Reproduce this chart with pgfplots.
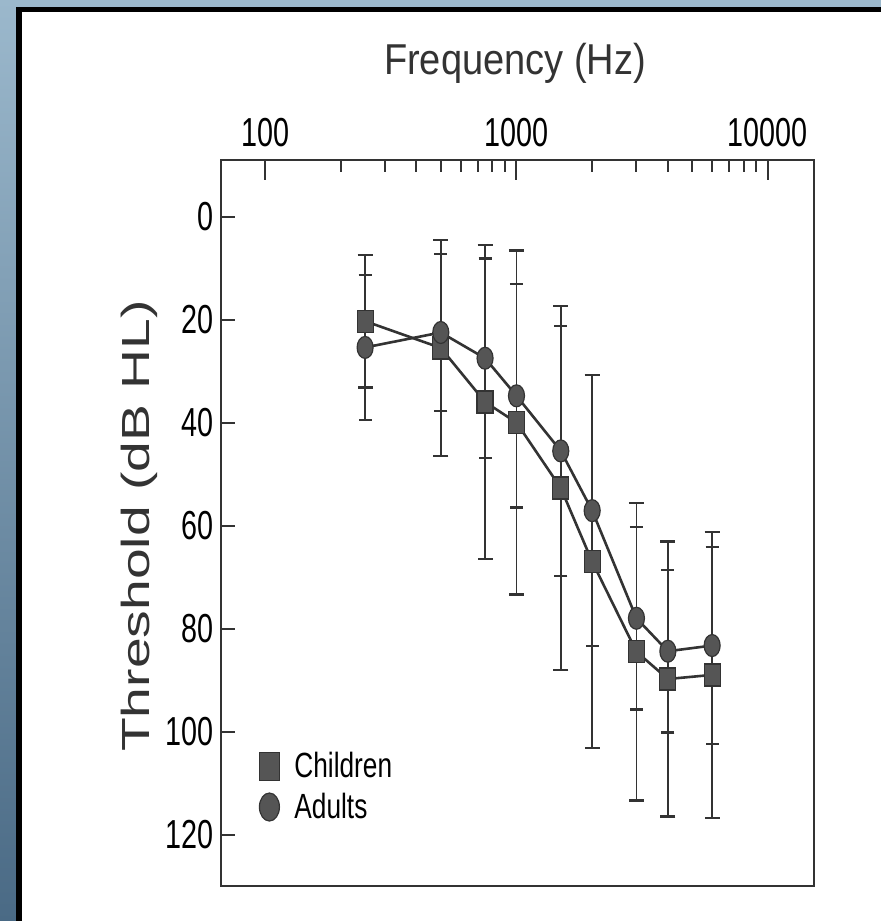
\documentclass[border=0pt]{standalone}
\usepackage{pgfplots}
\pgfplotsset{compat=1.18}
\usepackage{fontspec}
\setmainfont{Liberation Sans}
\usepackage{graphicx}

\definecolor{ink}{HTML}{333333}
\definecolor{markfill}{HTML}{555555}
\definecolor{bgtop}{HTML}{9BB8CC}
\definecolor{bgbot}{HTML}{4A6A85}
\newcommand{\tklab}[1]{\scalebox{0.71}[1]{#1}}

\pgfplotstableread{
x y e
250 20.3 12.9
500 25.5 21.0
750 36.0 30.5
1000 40.0 33.4
1500 52.7 35.3
2000 67.0 36.2
3000 84.5 28.9
4000 89.8 26.7
6000 89.0 27.8
}\children

\pgfplotstableread{
x y e
250 25.4 14.1
500 22.5 15.2
750 27.5 19.4
1000 34.8 21.7
1500 45.5 24.3
2000 57.1 26.3
3000 78.0 17.7
4000 84.4 15.8
6000 83.3 19.1
}\adults

\begin{document}
\begin{tikzpicture}
\useasboundingbox (0,0) rectangle (440.5pt,460.5pt);
\shade[top color=bgtop, bottom color=bgbot] (0,0) rectangle (440.5pt,460.5pt);
\fill[black] (8pt,0) rectangle (11pt,457pt);
\fill[black] (8pt,454.5pt) rectangle (440.5pt,457pt);
\fill[white] (11pt,0) rectangle (440.5pt,454.5pt);

\begin{axis}[
  at={(110.5pt,17.5pt)}, anchor=south west,
  width=296.5pt, height=363pt, scale only axis,
  xmode=log, xmin=66.8, xmax=15250,
  ymin=-11, ymax=130, y dir=reverse,
  xtick={100,1000,10000},
  xticklabels={\tklab{100},\tklab{1000},\tklab{10000}},
  minor xtick={200,300,400,500,600,700,800,900,2000,3000,4000,5000,6000,7000,8000,9000},
  ytick={0,20,40,60,80,100,120},
  yticklabels={\tklab{0},\tklab{20},\tklab{40},\tklab{60},\tklab{80},\tklab{100},\tklab{120}},
  minor y tick num=0,
  xtick pos=right, xticklabel pos=right,
  ytick pos=left,
  tick align=inside,
  major tick length=10pt, minor tick length=6pt,
  ytick style={/pgfplots/major tick length=7pt},
  axis line style={draw=ink, line width=1.1pt},
  tick style={draw=ink, line width=1pt},
  xticklabel style={font=\fontsize{20.25}{24}\selectfont, inner sep=0pt, anchor=base, yshift=6.6pt},
  yticklabel style={font=\fontsize{20.25}{24}\selectfont, inner sep=0pt, anchor=east, xshift=-3.5pt},
  legend style={draw=none, fill=none, at={(0.054,0.19)}, anchor=north west,
    font=\fontsize{17.5}{20}\selectfont, row sep=6pt, column sep=7.5pt,
    nodes={inner sep=0pt}},
  legend cell align=left,
  legend image code/.code={\path[draw=none, mark size=5pt, mark options={yscale=1.4, fill=markfill, draw=ink, solid, line width=0.6pt}] plot coordinates {(0pt,0pt)};},
]
\addplot[draw=ink, line width=1.3pt, mark=square*, mark size=4pt,
  mark options={yscale=1.375, fill=markfill, draw=ink, solid, line width=0.6pt},
  error bars/.cd, y dir=both, y explicit,
  error bar style={line width=0.9pt, draw=ink},
  error mark options={rotate=90, draw=ink, line width=1.2pt, mark size=3.75pt}]
  table[x=x, y=y, y error=e] {\children};
\addlegendentry{\scalebox{0.75}[1]{Children}}
\addplot[draw=ink, line width=1.3pt, mark=*, mark size=4pt,
  mark options={yscale=1.375, fill=markfill, draw=ink, solid, line width=0.6pt},
  error bars/.cd, y dir=both, y explicit,
  error bar style={line width=0.9pt, draw=ink},
  error mark options={rotate=90, draw=ink, line width=1.2pt, mark size=3.25pt}]
  table[x=x, y=y, y error=e] {\adults};
\addlegendentry{\scalebox{0.75}[1]{Adults}}
\end{axis}

\node[anchor=base, font=\fontsize{21.6}{26}\selectfont, text=ink] at (257.5pt,423pt) {\scalebox{0.88}[1]{Frequency (Hz)}};
\node[rotate=90, anchor=base, font=\fontsize{19.6}{24}\selectfont, text=ink] at (74.5pt,197.5pt) {\scalebox{1.41}[1]{Threshold (dB HL)}};
\end{tikzpicture}
\end{document}
